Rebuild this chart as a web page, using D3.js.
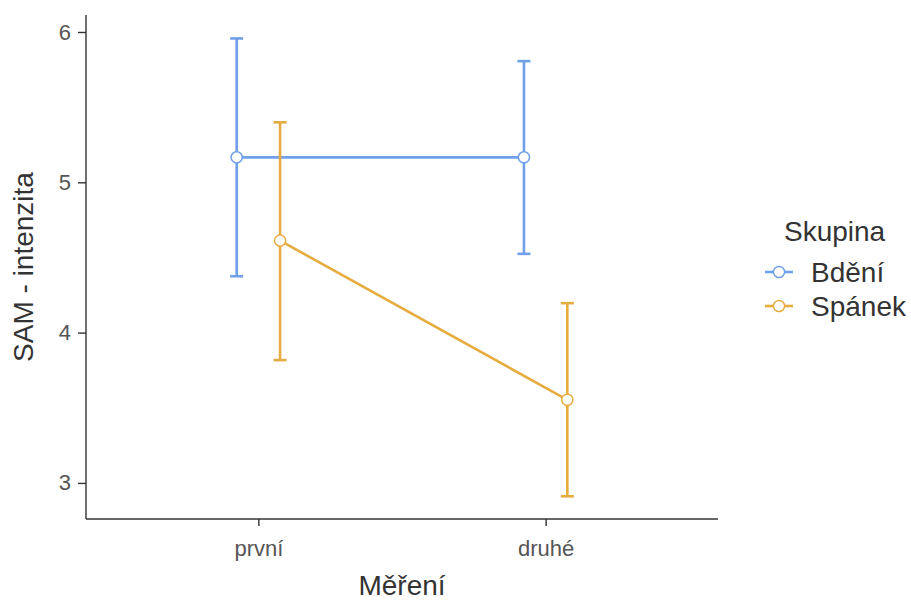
<!DOCTYPE html>
<html>
<head>
<meta charset="utf-8">
<script src="https://cdn.jsdelivr.net/npm/d3@7"></script>
<style>
  html, body { margin: 0; padding: 0; background: #fff; }
  svg { display: block; font-family: "Liberation Sans", Arial, sans-serif; }
</style>
</head>
<body>
<svg id="chart" width="911" height="602"></svg>
<script>
// ---- data ----
const categories = ["první", "druhé"];
const groups = ["Bdění", "Spánek"];
const meanBdeni   = [5.166, 5.166];
const lowerBdeni  = [4.375, 4.524];
const upperBdeni  = [5.957, 5.806];
const meanSpanek  = [4.612, 3.553];
const lowerSpanek = [3.817, 2.911];
const upperSpanek = [5.399, 4.196];
const yTicks = [3, 4, 5, 6];
const colors = ["#6FA0E9", "#E6AC40"];

const series = [
  { name: groups[0], mean: meanBdeni, lo: lowerBdeni, hi: upperBdeni, color: colors[0], dodge: -1 },
  { name: groups[1], mean: meanSpanek, lo: lowerSpanek, hi: upperSpanek, color: colors[1], dodge: 1 }
];

const svg = d3.select("#chart");
const mLeft = 86, mRight = 718, mTop = 15, mBottom = 519;

const x = d3.scalePoint().domain(categories).range([mLeft, mRight]).padding(0.6);
const y = d3.scaleLinear().domain([2.76, 6.113]).range([mBottom, mTop]);
const step = x.step();
const dodgePx = step * 0.0755;
const axisColor = "#333333";
const textColor = "#555555";

// axes
const yAxis = d3.axisLeft(y).tickValues(yTicks).tickSize(8).tickPadding(7).tickFormat(d3.format("d"));
const gy = svg.append("g").attr("transform", `translate(${mLeft},0)`).call(yAxis);
gy.select(".domain").remove();
gy.append("line").attr("x1", 0).attr("x2", 0).attr("y1", mTop).attr("y2", mBottom)
  .attr("stroke", axisColor).attr("stroke-width", 1.4);
gy.selectAll(".tick line").attr("stroke", axisColor).attr("stroke-width", 1.4);
gy.selectAll(".tick text").attr("fill", textColor).style("font-size", "22px")
  .style("font-family", "'Liberation Sans', Arial, sans-serif");

const xAxis = d3.axisBottom(x).tickSize(7).tickPadding(0);
const gx = svg.append("g").attr("transform", `translate(0,${mBottom})`).call(xAxis);
gx.select(".domain").remove();
gx.append("line").attr("x1", mLeft).attr("x2", mRight).attr("y1", 0).attr("y2", 0)
  .attr("stroke", axisColor).attr("stroke-width", 1.4);
gx.selectAll(".tick line").attr("stroke", axisColor).attr("stroke-width", 1.4);
gx.selectAll(".tick text").attr("fill", textColor).style("font-size", "22px")
  .style("font-family", "'Liberation Sans', Arial, sans-serif")
  .attr("dy", null).attr("y", 37);

// axis titles
svg.append("text").text("Měření")
  .attr("x", (mLeft + mRight) / 2).attr("y", 595)
  .attr("text-anchor", "middle").attr("fill", "#333").style("font-size", "28px");
svg.append("text").text("SAM - intenzita")
  .attr("transform", `translate(33,${(mTop + mBottom) / 2}) rotate(-90)`)
  .attr("text-anchor", "middle").attr("fill", "#333").style("font-size", "28px");

const px = (s, i) => x(categories[i]) + s.dodge * dodgePx;
const line = d3.line().x(d => d[0]).y(d => d[1]);

// lines
series.forEach(s => {
  svg.append("path")
    .attr("d", line(categories.map((c, i) => [px(s, i), y(s.mean[i])])))
    .attr("fill", "none").attr("stroke", s.color).attr("stroke-width", 2.6);
});

// error bars
series.forEach(s => {
  const g = svg.append("g").attr("stroke", s.color).attr("stroke-width", 2.6).attr("fill", "none");
  categories.forEach((c, i) => {
    const cx = px(s, i);
    g.append("line").attr("x1", cx).attr("x2", cx).attr("y1", y(s.lo[i])).attr("y2", y(s.hi[i]));
    g.append("line").attr("x1", cx - 6.5).attr("x2", cx + 6.5).attr("y1", y(s.lo[i])).attr("y2", y(s.lo[i]));
    g.append("line").attr("x1", cx - 6.5).attr("x2", cx + 6.5).attr("y1", y(s.hi[i])).attr("y2", y(s.hi[i]));
  });
});

// points
series.forEach(s => {
  categories.forEach((c, i) => {
    svg.append("circle").attr("cx", px(s, i)).attr("cy", y(s.mean[i])).attr("r", 5.6)
      .attr("fill", "#fff").attr("stroke", s.color).attr("stroke-width", 1.5);
  });
});

// legend
const lg = svg.append("g");
lg.append("text").text("Skupina").attr("x", 784).attr("y", 241)
  .attr("fill", "#333").style("font-size", "28px");
series.forEach((s, k) => {
  const cy = 272 + k * 34;
  lg.append("line").attr("x1", 765).attr("x2", 793).attr("y1", cy).attr("y2", cy)
    .attr("stroke", s.color).attr("stroke-width", 2.6);
  lg.append("circle").attr("cx", 779).attr("cy", cy).attr("r", 5.6)
    .attr("fill", "#fff").attr("stroke", s.color).attr("stroke-width", 1.5);
  lg.append("text").text(s.name).attr("x", 811).attr("y", cy + 10)
    .attr("fill", "#333").style("font-size", "28px");
});
</script>
</body>
</html>
